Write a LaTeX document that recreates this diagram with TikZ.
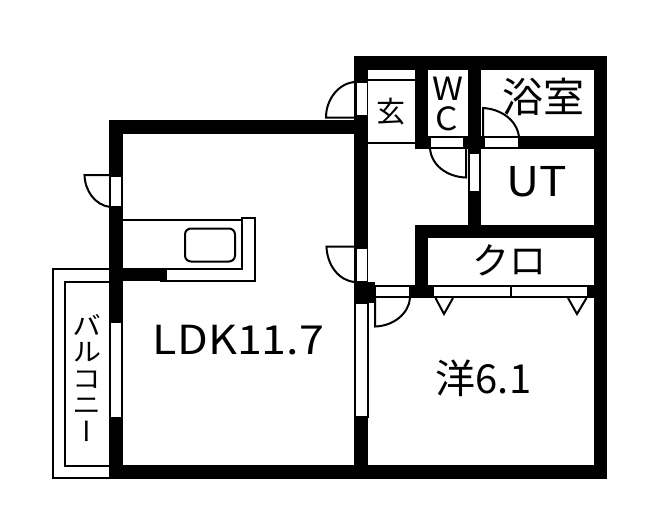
\documentclass[tikz,border=0pt]{standalone}
\usepackage{fontspec}
\setmainfont{Noto Sans CJK JP}
\newfontfamily\cjkv[RawFeature=+vert]{Noto Sans CJK JP}
\tikzset{
  wall/.style={fill=black,draw=none},
  opening/.style={fill=white,draw=black,line width=1.2pt},
  thin line/.style={draw=black,line width=2pt},
  doorline/.style={draw=black,line width=2pt,line join=miter},
  label/.style={inner sep=0pt,text=black},
  balfont/.style={label,align=center,xscale=1.12,font=\cjkv\fontsize{26}{32}\selectfont},
}
\begin{document}
\begin{tikzpicture}[x=1pt,y=-1pt]
\useasboundingbox[fill=white] (0,0) rectangle (657,530);
% balcony
\draw[thin line] (109,268.5) -- (52.5,268.5) -- (52.5,478) -- (109,478);
\draw[thin line] (109,281.5) -- (64.5,281.5) -- (64.5,466) -- (109,466);
% kitchen counter
\draw[thin line] (123,220) -- (242,220) -- (242,269) -- (123,269);
\draw[thin line] (241,217.5) -- (255,217.5) -- (255,281) -- (160,281);
\draw[thin line,rounded corners=6pt] (185,228.5) rectangle (235,261.5);
% walls
\fill[wall] (354,56) rectangle (607,70);
\fill[wall] (593.5,56) rectangle (607,479);
\fill[wall] (354,56) rectangle (368,134);
\fill[wall] (109,120) rectangle (368,134);
\fill[wall] (109,120) rectangle (123,479);
\fill[wall] (109,465) rectangle (607,479);
\fill[wall] (354,120) rectangle (368,479);
\fill[wall] (123,268) rectangle (167,281);
\fill[wall] (415,56) rectangle (428,149);
\fill[wall] (468,56) rectangle (481,238);
\fill[wall] (415,136) rectangle (481,149);
\fill[wall] (468,136) rectangle (607,149);
\fill[wall] (415,225) rectangle (607,238);
\fill[wall] (415,225) rectangle (428,298);
\fill[wall] (354,282) rectangle (375,303);
\fill[wall] (354,285) rectangle (607,298);
% hall lines
\draw[thin line] (368,80) -- (415,80);
\draw[thin line] (368,143) -- (415,143);
% windows and door openings
\draw[opening] (356,82) rectangle (367.5,116);
\draw[opening] (356,248) rectangle (367.5,282);
\draw[opening] (355.5,303) rectangle (368,417);
\draw[opening] (110,176) rectangle (122,207);
\draw[opening] (110.5,322) rectangle (122,418);
\draw[opening] (430,137) rectangle (464,148);
\draw[opening] (469,153) rectangle (480,192);
\draw[opening] (484.5,137) rectangle (519,148);
\draw[opening] (375,286) rectangle (410,297);
\draw[opening] (433,286) rectangle (511,297);
\draw[opening] (511,286) rectangle (588,297);
% doors
\draw[doorline] (355,117.5) -- (326,117.5) .. controls (326,99) and (339,83) .. (355,82);
\draw[doorline] (355,246.5) -- (326.5,246.5) .. controls (327,265) and (339,281) .. (355,282);
\draw[doorline] (110,175) -- (84.5,175) .. controls (85,191) and (95,205) .. (110,207);
\draw[doorline] (466,148) -- (466,177.5) .. controls (447,177) and (431,165) .. (430,148);
\draw[doorline] (483,137) -- (483,108) .. controls (501,109) and (517,120) .. (519,137);
\draw[doorline] (375,298) -- (375,326.5) .. controls (394,326) and (409,313) .. (410,298);
% sliding marks
\draw[doorline] (435.5,298) -- (444,314) -- (453,298);
\draw[doorline] (568,298) -- (577,314) -- (586.5,298);
% labels
\node[label,font=\fontsize{40}{40}\selectfont,xscale=1.12] (ldk) at (238.5,340) {LDK11.7};
\node[label,font=\fontsize{40}{40}\selectfont] (yo) at (483.5,378) {洋6.1};
\node[label,font=\fontsize{41}{41}\selectfont,xscale=1.12] (ut) at (537,182) {UT};
\node[label,font=\fontsize{41}{41}\selectfont] (bath) at (543,97) {浴室};
\node[label,font=\fontsize{37}{37}\selectfont] (clo) at (509,260) {クロ};
\node[label,font=\fontsize{32}{32}\selectfont,xscale=1.1] (w) at (447.5,88.5) {W};
\node[label,font=\fontsize{32}{32}\selectfont,xscale=1.1] (c) at (447,119) {C};
\node[label,font=\fontsize{29}{29}\selectfont] (gen) at (391,112) {玄};
\node[balfont] (bal) at (87,378) {バ\\[-5.5pt]ル\\[-5.5pt]コ\\[-5.5pt]ニ\\[-5.5pt]ー};
\end{tikzpicture}
\end{document}
